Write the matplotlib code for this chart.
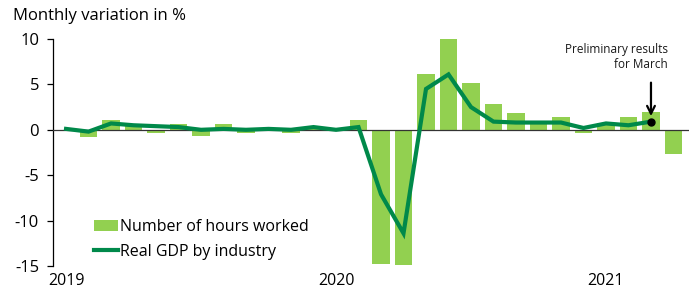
"""Monthly variation of hours worked and real GDP by industry, 2019 to spring 2021."""

import matplotlib

matplotlib.use("Agg")
import matplotlib.pyplot as plt  # noqa: E402
import numpy as np  # noqa: E402

plt.rcParams["font.family"] = ["Open Sans", "DejaVu Sans"]

# one entry per month starting January 2019
hours_worked = [
    -0.1, -0.8, 1.1, 0.4, -0.3, 0.6, -0.7, 0.6, -0.3, 0.1, -0.3, 0.1,
    0.0, 1.1, -14.8, -14.9, 6.2, 10.1, 5.2, 2.8, 1.8, 0.9, 1.4, -0.4,
    0.8, 1.4, 2.0, -2.7,
]
real_gdp = [
    0.1, -0.2, 0.7, 0.5, 0.4, 0.3, 0.0, 0.1, 0.0, 0.1, 0.0, 0.3,
    0.0, 0.3, -7.1, -11.4, 4.5, 6.1, 2.5, 0.9, 0.8, 0.8, 0.8, 0.2,
    0.7, 0.5, 0.9,
]
year_labels = ["2019", "2020", "2021"]
year_months = [0, 12, 24]
y_ticks = [10, 5, 0, -5, -10, -15]

LIGHT_GREEN = "#92d050"
DARK_GREEN = "#00894a"

fig = plt.figure(figsize=(6.91, 2.89), dpi=100)
ax = fig.add_axes([53 / 691, 23 / 289, 636 / 691, 227 / 289])

months = np.arange(len(hours_worked))
bars = ax.bar(months, hours_worked, width=0.78, color=LIGHT_GREEN, zorder=2)
ax.axhline(0, color="#333333", lw=0.9, zorder=3)
gdp_x = np.arange(len(real_gdp))
(gdp_line,) = ax.plot(gdp_x, real_gdp, color=DARK_GREEN, lw=3.0, zorder=4,
                      solid_joinstyle="miter")

# preliminary March estimate
last = len(real_gdp) - 1
ax.plot(last, real_gdp[last], "o", color="black", ms=5, zorder=5)
ax.annotate("", xy=(last, real_gdp[last] + 0.3), xytext=(last, 5.5),
            arrowprops=dict(arrowstyle="->", color="black", lw=1.6,
                            mutation_scale=14), zorder=5)
ax.text(last + 0.75, 9.6, "Preliminary results\nfor March", ha="right", va="top",
        fontsize=8.5, linespacing=1.2, color="#1a1a1a")

ax.set_xlim(-0.58, 27.69)
ax.set_ylim(-15, 10)
ax.set_yticks(y_ticks)
ax.set_yticklabels([str(v) for v in y_ticks], fontsize=12)
ax.set_xticks(year_months)
ax.set_xticklabels(year_labels, fontsize=11.5)
ax.tick_params(axis="x", length=0, pad=5)
ax.tick_params(axis="y", length=4, width=0.9, pad=6)
for side in ("top", "right", "bottom"):
    ax.spines[side].set_visible(False)
ax.spines["left"].set_linewidth(0.9)

fig.text(13 / 691, 1 - 16 / 289, "Monthly variation in %", fontsize=12, va="center")

ax.legend([bars, gdp_line], ["Number of hours worked", "Real GDP by industry"],
          loc="lower left", bbox_to_anchor=(0.05, -0.015), frameon=False, fontsize=11.5,
          handlelength=1.5, handletextpad=0.1, labelspacing=0.55, borderaxespad=0.2)

fig.savefig("out.png", dpi=100)
